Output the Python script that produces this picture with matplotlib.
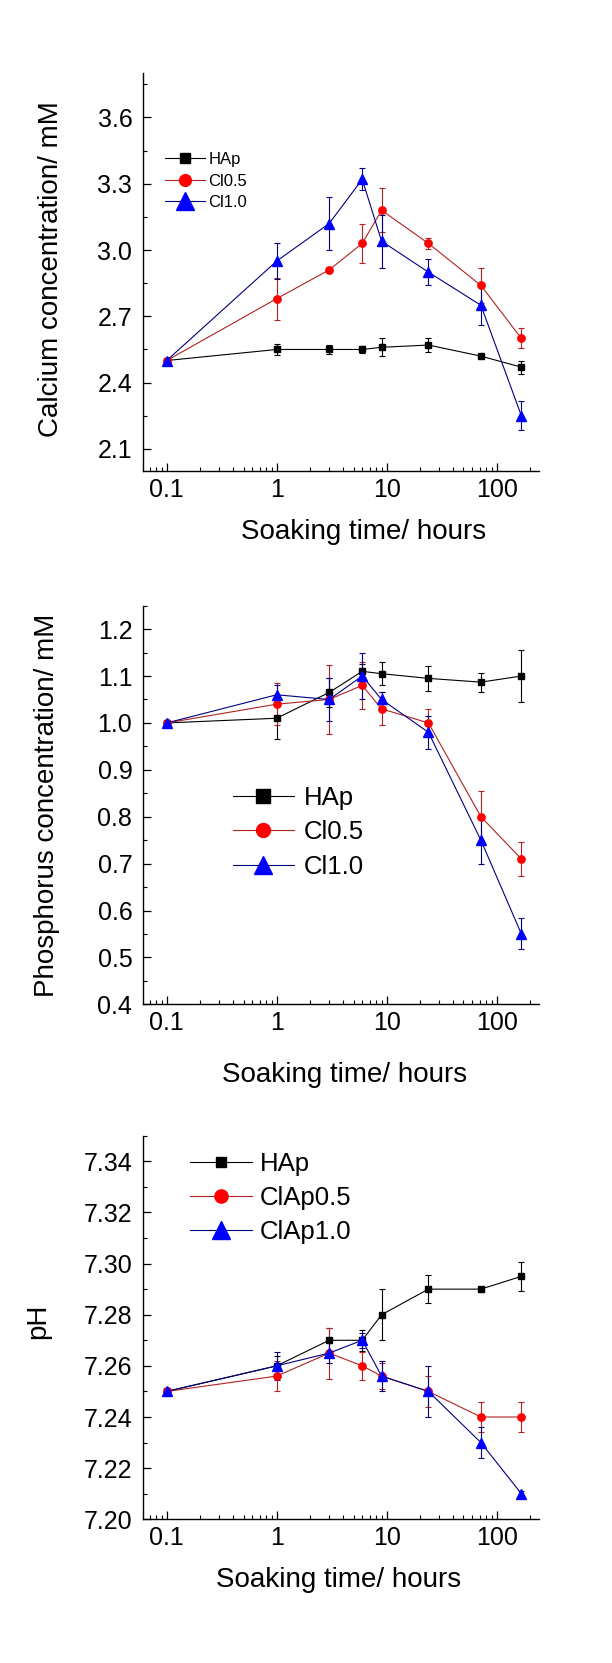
import numpy as np
import matplotlib
matplotlib.use("Agg")
import matplotlib.pyplot as plt
from matplotlib.lines import Line2D
from matplotlib.ticker import MultipleLocator, LogLocator, NullFormatter

plt.rcParams['font.family'] = ['Liberation Sans', 'DejaVu Sans']

# soaking times (hours)
time = [0.1, 1, 3, 6, 9, 24, 72, 168]

# calcium concentration (mM)
ca_hap = [2.50, 2.55, 2.55, 2.55, 2.56, 2.57, 2.52, 2.47]
ca_hap_err = [0, 0.025, 0.022, 0.018, 0.04, 0.03, 0.008, 0.03]
ca_cl05 = [2.50, 2.78, 2.91, 3.03, 3.18, 3.03, 2.84, 2.60]
ca_cl05_err = [0, 0.095, 0.015, 0.09, 0.10, 0.025, 0.08, 0.045]
ca_cl10 = [2.50, 2.95, 3.12, 3.32, 3.04, 2.90, 2.75, 2.25]
ca_cl10_err = [0, 0.08, 0.12, 0.05, 0.12, 0.06, 0.09, 0.065]

# phosphorus concentration (mM)
p_hap = [1.00, 1.01, 1.065, 1.11, 1.105, 1.095, 1.087, 1.10]
p_hap_err = [0, 0.045, 0.03, 0.015, 0.025, 0.027, 0.02, 0.056]
p_cl05 = [1.00, 1.04, 1.05, 1.08, 1.03, 1.00, 0.80, 0.71]
p_cl05_err = [0, 0.045, 0.073, 0.05, 0.035, 0.03, 0.055, 0.036]
p_cl10 = [1.00, 1.06, 1.05, 1.10, 1.05, 0.98, 0.75, 0.55]
p_cl10_err = [0, 0.02, 0.045, 0.05, 0.015, 0.035, 0.05, 0.033]

# pH
ph_hap = [7.25, 7.26, 7.27, 7.27, 7.28, 7.29, 7.29, 7.295]
ph_hap_err = [0, 0.004, 0.005, 0.004, 0.01, 0.0055, 0.001, 0.0058]
ph_cl05 = [7.25, 7.256, 7.265, 7.26, 7.256, 7.25, 7.24, 7.24]
ph_cl05_err = [0, 0.006, 0.01, 0.0056, 0.005, 0.006, 0.0057, 0.0057]
ph_cl10 = [7.25, 7.26, 7.265, 7.27, 7.256, 7.25, 7.23, 7.21]
ph_cl10_err = [0, 0.0056, 0.004, 0.003, 0.006, 0.01, 0.006, 0.001]

W, H = 612, 1663
fig = plt.figure(figsize=(W / 100, H / 100), dpi=100)

# series style: marker, face colour, line colour, data marker size
styles = [
    ('s', 'black', 'black', 5),
    ('o', '#ff0000', '#b22222', 5.3),
    ('^', '#0000ff', '#000080', 7.2),
]


def px_rect(x0, x1, y0, y1):
    return [x0 / W, 1 - y1 / H, (x1 - x0) / W, (y1 - y0) / H]


def panel(rect, series, ylim, major, minor, fmt):
    ax = fig.add_axes(rect)
    for (y, err), (m, fc, lc, ms) in zip(series, styles):
        t = np.array(time)
        y = np.array(y)
        err = np.array(err)
        keep = err > 0
        ax.errorbar(t[keep], y[keep], yerr=err[keep], fmt='none',
                    ecolor=lc, elinewidth=0.8, capsize=2.5, capthick=0.8,
                    zorder=2)
        ax.plot(t, y, color=lc, lw=0.8, marker=m, ms=ms, mfc=fc, mec=fc,
                zorder=3)
    ax.set_xscale('log')
    ax.set_xlim(0.0605, 243)
    ax.set_ylim(*ylim)
    ax.set_xticks([0.1, 1, 10, 100], labels=['0.1', '1', '10', '100'])
    ax.xaxis.set_minor_locator(LogLocator(base=10, subs=np.arange(2, 10)))
    ax.xaxis.set_minor_formatter(NullFormatter())
    ax.yaxis.set_major_locator(MultipleLocator(major))
    ax.yaxis.set_minor_locator(MultipleLocator(minor))
    ax.yaxis.set_major_formatter(plt.FormatStrFormatter(fmt))
    for s in ['top', 'right']:
        ax.spines[s].set_visible(False)
    for s in ['left', 'bottom']:
        ax.spines[s].set_linewidth(1.0)
    ax.tick_params(which='major', direction='in', length=6, width=0.9,
                   labelsize=18)
    ax.tick_params(which='minor', direction='in', length=3, width=0.8)
    ax.tick_params(axis='x', pad=5)
    ax.tick_params(axis='y', pad=7.5)
    return ax


def add_legend(ax, labels, sizes, fs, x, y, hl, htp, ls):
    handles = []
    for (m, fc, lc, _), ms in zip(styles, sizes):
        handles.append(Line2D([], [], color=lc, lw=0.8, marker=m, ms=ms,
                              mfc=fc, mec=fc))
    ax.legend(handles, labels, loc='upper left', frameon=False,
              bbox_to_anchor=(x / W, 1 - y / H), bbox_transform=fig.transFigure,
              borderpad=0, borderaxespad=0, fontsize=fs, handlelength=hl,
              handletextpad=htp, labelspacing=ls)


ax1 = panel(px_rect(142.7, 539, 73.3, 471),
            [(ca_hap, ca_hap_err), (ca_cl05, ca_cl05_err), (ca_cl10, ca_cl10_err)],
            (2.0, 3.8), 0.3, 0.15, '%.1f')
add_legend(ax1, ['HAp', 'Cl0.5', 'Cl1.0'], [6.5, 8.5, 12.5], 12,
           165, 152, 2.4, 0.2, 0.39)

ax2 = panel(px_rect(142.7, 539, 605.7, 1004.3),
            [(p_hap, p_hap_err), (p_cl05, p_cl05_err), (p_cl10, p_cl10_err)],
            (0.4, 1.25), 0.1, 0.05, '%.1f')
add_legend(ax2, ['HAp', 'Cl0.5', 'Cl1.0'], [9.5, 10, 13], 18.5,
           233, 786, 2.37, 0.39, 0.4)

ax3 = panel(px_rect(142.7, 539, 1135.7, 1519.3),
            [(ph_hap, ph_hap_err), (ph_cl05, ph_cl05_err), (ph_cl10, ph_cl10_err)],
            (7.20, 7.35), 0.02, 0.01, '%.2f')
add_legend(ax3, ['HAp', 'ClAp0.5', 'ClAp1.0'], [7.5, 9.5, 12.5], 18.5,
           190, 1152, 2.4, 0.31, 0.39)

# axis titles
lab = dict(fontsize=20, ha='center', va='center')
fig.text(364 / W, 1 - 532 / H, 'Soaking time/ hours', **lab)
fig.text(345 / W, 1 - 1075 / H, 'Soaking time/ hours', **lab)
fig.text(339 / W, 1 - 1580 / H, 'Soaking time/ hours', **lab)
fig.text(51.4 / W, 1 - 269 / H, 'Calcium concentration/ mM', rotation=90, **lab)
fig.text(47.4 / W, 1 - 805 / H, 'Phosphorus concentration/ mM', rotation=90, **lab)
fig.text(38.3 / W, 1 - 1321.7 / H, 'pH', rotation=90, **lab)

fig.savefig('out.png', dpi=100)
